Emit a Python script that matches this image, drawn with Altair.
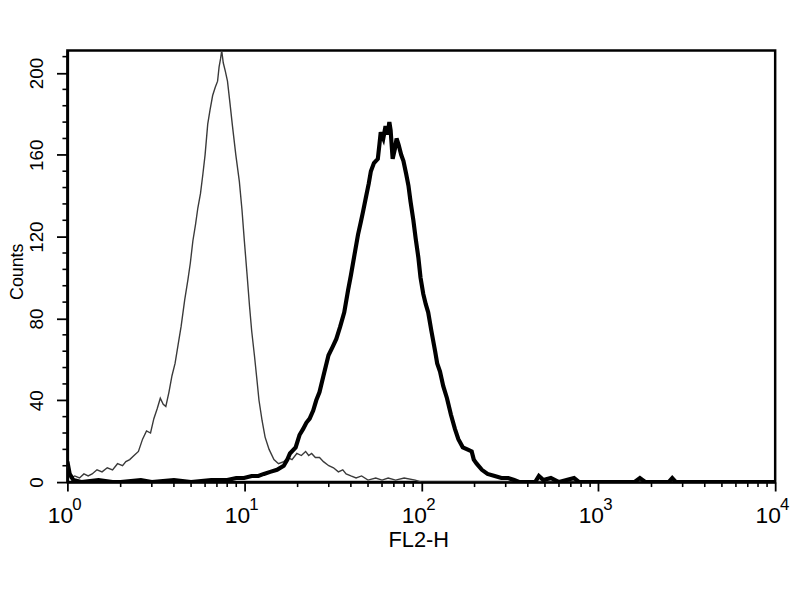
import altair as alt
import pandas as pd

# ---- data (FL2-H channel value, counts) ----
thin_x = [1.0, 1.04, 1.1, 1.17, 1.24, 1.31, 1.38, 1.47, 1.57, 1.68, 1.8, 1.92, 2.05, 2.14, 2.25,
          2.38, 2.52, 2.66, 2.8, 2.95, 3.08, 3.22, 3.35, 3.48, 3.6, 3.75, 3.9, 4.06, 4.22, 4.39,
          4.6, 4.8, 4.95, 5.12, 5.3, 5.46, 5.65, 5.82, 6.0, 6.21, 6.4, 6.62, 6.85, 7.06, 7.2,
          7.34, 7.45, 7.6, 7.8, 8.03, 8.3, 8.57, 8.95, 9.37, 9.7, 10.0, 10.35, 10.7, 11.0, 11.4,
          11.75, 12.1, 12.6, 13.1, 13.8, 14.7, 15.6, 16.7, 17.6, 18.6, 19.8, 21.0, 22.2, 23.1, 24.0,
          25.2, 26.6, 28.0, 30.0, 31.9, 34.0, 36.0, 37.6, 40.0, 42.8, 46.0, 50.0, 55.3, 60.0, 65.0,
          71.6, 80.0, 92.5, 100, 200, 1000, 10000]
thin_y = [8, 2, 3, 2, 4, 3, 4, 6, 5, 7, 6, 9, 8, 10, 11,
          13, 15, 21, 25, 24, 31, 36, 41, 38, 37, 44, 52, 58, 67, 76,
          89, 99, 107, 118, 126, 134, 141, 150, 160, 175, 182, 189, 193, 196, 203,
          207, 211, 205, 201, 196, 185, 174, 160, 147, 133, 118, 102, 86, 74, 62,
          51, 40, 30, 22, 16, 11, 9, 10, 12, 11, 14, 13, 15, 13, 14,
          12, 12, 10, 8, 7, 5, 6, 4, 3, 2, 3, 1, 2, 1, 2,
          1, 2, 1, 0, 0, 0, 0]

thick_x = [1.0, 1.03, 1.08, 1.2, 1.5, 1.8, 2.0, 2.6, 3.0, 4.0, 5.0, 6.5, 8.0, 9.0, 9.96,
           11.0, 12.0, 12.9, 14.0, 15.3, 16.7, 17.5, 18.1, 19.5, 20.5, 21.5, 22.4, 23.4, 24.5, 25.5,
           26.6, 28.0, 29.9, 31.5, 33.1, 34.8, 36.7, 38.6, 40.0, 41.7, 43.9, 45.5, 46.8, 48.6, 50.5,
           51.9, 54.0, 56.8, 58.0, 59.0, 61.0, 62.8, 64.6, 66.0, 67.1, 68.9, 71.0, 72.5, 74.4, 77.0,
           79.3, 82.0, 84.6, 87.0, 90.2, 93.0, 96.2, 99.0, 102.6, 106.0, 109.4, 114.0, 119.7, 123.0, 127.6,
           133.0, 139.7, 147.0, 154.9, 162.0, 171.6, 182.0, 192.7, 198.0, 205.6, 220.0, 236.8, 260.0, 283.6, 310.0,
           335.0, 360.0, 440.0, 462.0, 490.0, 540.0, 600.0, 730.0, 780.0, 1600.0, 1720.0, 1850.0, 2500.0, 2620.0, 2750.0,
           10000.0]
thick_y = [10, 4, 1, 0, 1, 0, 0, 1, 0, 1, 0, 1, 1, 2, 2,
           3, 3, 4, 5, 6, 8, 11, 14, 17, 23, 26, 29, 31, 35, 40,
           44, 52, 62, 66, 70, 76, 83, 94, 101, 110, 121, 127, 132, 139, 146,
           152, 156, 158, 165, 171, 168, 174, 170, 176, 172, 158, 163, 168, 165, 160,
           157, 151, 145, 137, 128, 119, 110, 100, 92, 87, 83, 74, 64, 58, 54,
           47, 41, 33, 26, 21, 17, 16, 15, 11, 9, 6, 4, 3, 2, 2,
           1, 0, 0, 3, 1, 2, 0, 2, 0, 0, 2, 0, 0, 2, 0,
           0]

# ---- axis tick values / labels ----
y_major = [0, 40, 80, 120, 160, 200]
y_minor = [8, 16, 24, 32, 48, 56, 64, 72, 88, 96, 104, 112, 128, 136, 144, 152,
           168, 176, 184, 192, 208]
x_decades = [1, 10, 100, 1000, 10000]
x_base = ["10", "10", "10", "10", "10"]
x_exps = ["0", "1", "2", "3", "4"]
x_minor = [2, 3, 4, 5, 6, 7, 8, 9,
           20, 30, 40, 50, 60, 70, 80, 90,
           200, 300, 400, 500, 600, 700, 800, 900,
           2000, 3000, 4000, 5000, 6000, 7000, 8000, 9000]

W, H = 715, 436
FONT = "Liberation Sans"

xs = alt.Scale(type="log", domain=[1, 10000], nice=False)
ys = alt.Scale(domain=[0, 211], nice=False, zero=True)

thin_df = pd.DataFrame({"fl2h": thin_x, "counts": thin_y})
thick_df = pd.DataFrame({"fl2h": thick_x, "counts": thick_y})
lab_df = pd.DataFrame({"fl2h": x_decades, "base": x_base, "exp": x_exps})

x_axis = alt.Axis(values=x_decades, labels=False, ticks=True, tickSize=9, tickWidth=1.8,
                  tickColor="black", domainColor="black", domainWidth=2.5, grid=False,
                  title="FL2-H", titleFont=FONT, titleFontSize=22, titleFontWeight="normal",
                  titleColor="black", titleX=W / 2 - 3, titleY=48, titleBaseline="top",
                  titleAlign="center")
y_axis = alt.Axis(values=y_major, tickSize=11, tickWidth=1.8, tickColor="black",
                  domainColor="black", domainWidth=2.5, grid=False,
                  labelAngle=270, labelAlign="center", labelBaseline="bottom", labelPadding=10,
                  labelFont=FONT, labelFontSize=19, labelColor="black",
                  title="Counts", titleFont=FONT, titleFontSize=18, titleFontWeight="normal",
                  titleColor="black", titleAngle=270, titleX=-45, titleY=H / 2 + 5,
                  titleAlign="center", titleBaseline="alphabetic")

X = alt.X("fl2h:Q", scale=xs, axis=x_axis)
Y = alt.Y("counts:Q", scale=ys, axis=y_axis)

thin = alt.Chart(thin_df).mark_line(color="#3a3a3a", strokeWidth=1.4, clip=True).encode(
    x=X, y=Y, order="fl2h:Q")
thick = alt.Chart(thick_df).mark_line(color="black", strokeWidth=4.2, clip=True).encode(
    x=X, y=Y, order="fl2h:Q")

y_minor_rules = alt.Chart(pd.DataFrame({"counts": y_minor})).mark_rule(
    color="black", strokeWidth=1.6).encode(y=Y, x=alt.value(-5), x2=alt.value(0))
x_minor_rules = alt.Chart(pd.DataFrame({"fl2h": x_minor})).mark_rule(
    color="black", strokeWidth=1.6).encode(x=X, y=alt.value(H), y2=alt.value(H + 5))

base_text = alt.Chart(lab_df).mark_text(font=FONT, fontSize=23, align="center",
                                        baseline="alphabetic", dx=-7, color="black").encode(
    x=X, y=alt.value(H + 41), text="base:N")
exp_text = alt.Chart(lab_df).mark_text(font=FONT, fontSize=17, align="left",
                                       baseline="alphabetic", dx=5, color="black").encode(
    x=X, y=alt.value(H + 28), text="exp:N")

chart = alt.layer(thin, thick, y_minor_rules, x_minor_rules, base_text, exp_text).properties(
    width=W, height=H,
    autosize=alt.AutoSizeParams(type="none"),
    padding={"left": 60, "top": 40, "right": 17, "bottom": 100},
    background="white",
).configure_view(stroke="black", strokeWidth=2.5)

chart.save("out.html", embed_options={"renderer": "svg", "actions": False})
